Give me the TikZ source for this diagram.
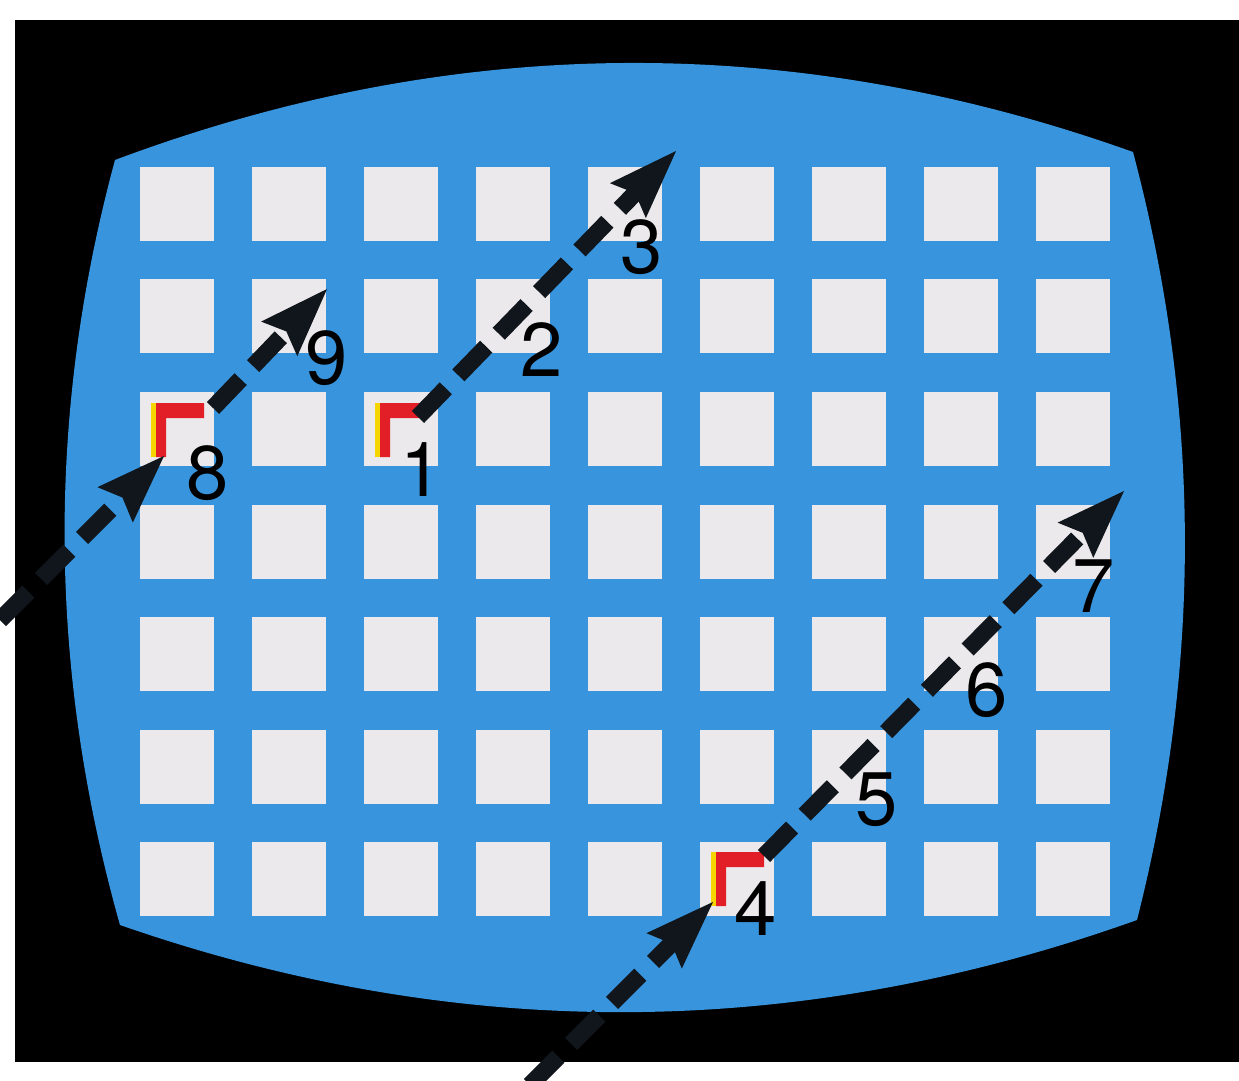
\documentclass[tikz,border=0pt]{standalone}
\usepackage{fontspec}
\setmainfont{TeX Gyre Heros}
\usetikzlibrary{arrows.meta}

\definecolor{screenblue}{RGB}{56,149,221}
\definecolor{tilegray}{RGB}{236,233,236}
\definecolor{flagred}{RGB}{226,30,38}
\definecolor{flagyellow}{RGB}{246,214,0}
\definecolor{trailcol}{RGB}{16,22,28}

\tikzset{
  tile/.style={fill=tilegray},
  trail/.style={line width=8.5pt, dash pattern=on 20pt off 9pt, draw=trailcol,
    -{Stealth[length=34pt,width=23pt,inset=4pt]}},
  digit/.style={inner sep=0pt, text=black, font=\fontsize{38}{38}\selectfont}
}

\begin{document}
\begin{tikzpicture}[x=0.5pt,y=-0.5pt]
        \useasboundingbox (0,0) rectangle (1239,1081);
        \fill[white] (0,0) rectangle (1239,1081);

        % Draw frame and screen
        \fill[black] (15,20) rectangle (1239,1062);
        \fill[screenblue] (115,160) .. controls (46,415) and (48,670) .. (120,925)
            .. controls (459,1043) and (798,1041) .. (1137,920)
            .. controls (1202,664) and (1201,408) .. (1133,152)
            .. controls (794,31) and (454,33) .. (115,160) -- cycle;

        % Draw tiles
        \foreach \i in {0,...,8}
          \foreach \j in {0,...,6}
            \fill[tile] (140+112*\i,167+112.5*\j) rectangle ++(74,74);

        % Draw flags
        \foreach \sx/\sy in {140/393, 364/393, 700/842} {
          \fill[flagyellow] (\sx+11,\sy+10) rectangle (\sx+16,\sy+64);
          \fill[flagred] (\sx+16,\sy+10) -- (\sx+64,\sy+10) -- (\sx+64,\sy+25)
              -- (\sx+26,\sy+25) -- (\sx+26,\sy+64) -- (\sx+16,\sy+64) -- cycle;
        }

        % Draw moves
        \coordinate (a8in) at (0,620);
        \coordinate (f8) at (165,455);
        \coordinate (f8out) at (213,408);
        \coordinate (t9) at (328,288);
        \coordinate (f1out) at (418,417);
        \coordinate (t3) at (677,150);
        \coordinate (a4in) at (530,1085);
        \coordinate (f4) at (714,901);
        \coordinate (f4out) at (764,856);
        \coordinate (t7) at (1125,490);
        \draw[trail] (a8in) -- (f8);
        \draw[trail] (f8out) -- (t9);
        \draw[trail] (f1out) -- (t3);
        \draw[trail] (a4in) -- (f4);
        \draw[trail] (f4out) -- (t7);

        % Add labels
        \node[digit] (n1) at (422,470) {1};
        \node[digit] (n2) at (542,350) {2};
        \node[digit] (n3) at (642,247) {3};
        \node[digit] (n4) at (756,909) {4};
        \node[digit] (n5) at (877,800) {5};
        \node[digit] (n6) at (987,690) {6};
        \node[digit] (n7) at (1094,586) {7};
        \node[digit] (n8) at (208,473) {8};
        \node[digit] (n9) at (327,358) {9};
    \end{tikzpicture}
\end{document}
